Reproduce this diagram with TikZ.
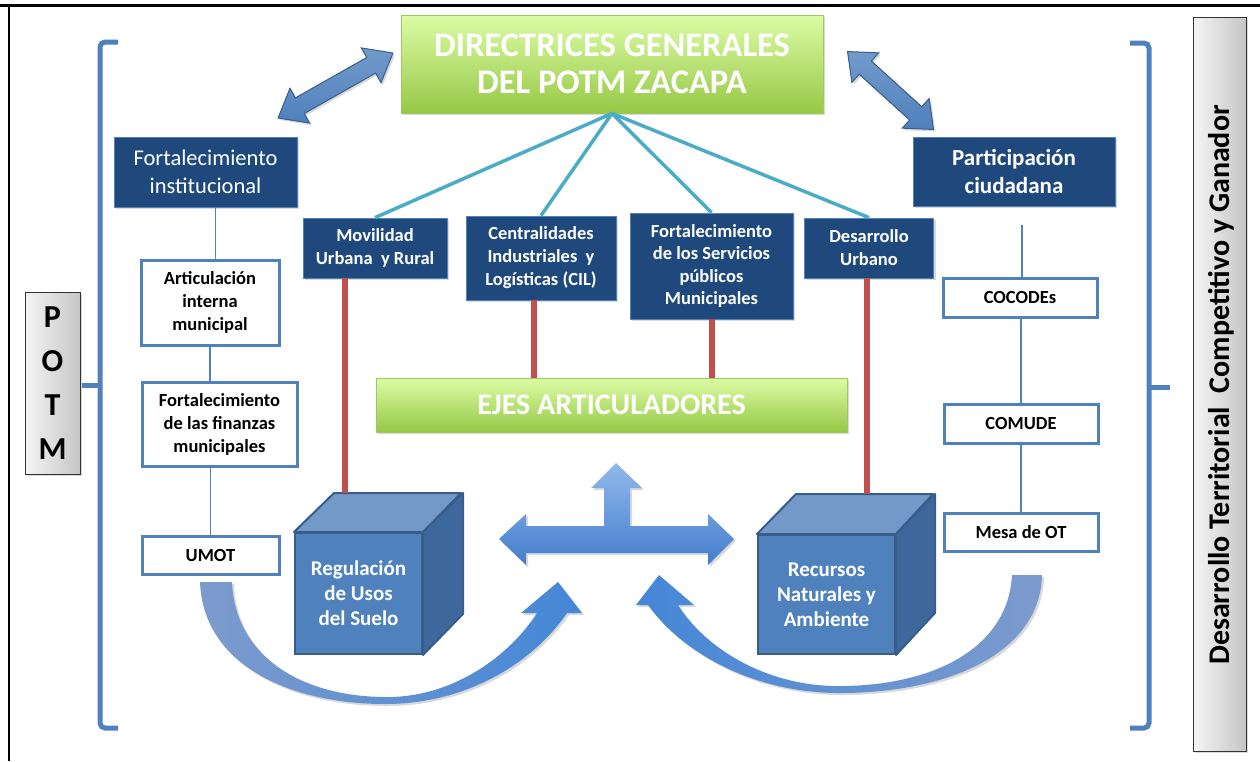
\documentclass[tikz,border=0pt]{standalone}
\usepackage{fontspec}
\setmainfont{Carlito}
\usetikzlibrary{shadows,calc}
\definecolor{dkblue}{RGB}{31,73,125}
\definecolor{midblue}{RGB}{79,129,189}
\definecolor{bordblue}{RGB}{56,93,138}
\definecolor{tealc}{RGB}{75,172,198}
\definecolor{redl}{RGB}{192,80,77}
\definecolor{gtop}{RGB}{220,252,165}
\definecolor{gbot}{RGB}{150,200,70}
\definecolor{gbord}{RGB}{160,200,90}
\definecolor{cubefr}{RGB}{79,129,189}
\definecolor{cubetp}{RGB}{114,153,200}
\definecolor{cubert}{RGB}{62,104,156}
\tikzset{
  shad/.style={drop shadow={opacity=0.3,shadow xshift=2pt,shadow yshift=-2pt}},
  darkbox/.style={draw=midblue, line width=0.8pt, fill=dkblue, text=white, align=center, inner sep=2pt, shad},
  whitebox/.style={draw=midblue, line width=3pt, fill=white, text=black, align=center, inner sep=2pt, font=\fontsize{18.5}{23}\selectfont\bfseries},
  greenbox/.style={draw=gbord, line width=0.8pt, top color=gtop, bottom color=gbot, text=white, align=center, shad},
  graybox/.style={draw=black!80, line width=1pt, left color=gray!8, right color=gray!45, shad},
  tealline/.style={draw=tealc, line width=3.5pt},
  redline/.style={draw=redl, line width=6pt},
  thinline/.style={draw=midblue, line width=1.5pt},
  bracket/.style={draw=midblue, line width=5pt, rounded corners=5pt},
  cubefront/.style={draw=bordblue, line width=2pt, fill=cubefr, text=white, align=center, font=\fontsize{21}{25}\selectfont\bfseries},
  cubeside/.style={draw=bordblue, line width=2pt, line join=round},
  blockarrow/.style={draw=bordblue, line width=1pt, top color=midblue!80, bottom color=midblue, shad},
  smallbold/.style={font=\fontsize{18.5}{23}\selectfont\bfseries},
}
\begin{document}
\begin{tikzpicture}[x=1pt,y=-1pt]
\useasboundingbox (0,0) rectangle (1260,761);
% frame
\draw[line width=3pt] (0,5) -- (1260,5);
\draw[line width=1.6pt] (9,5) -- (9,761);

% brackets
\draw[bracket] (118,42) -- (100,42) -- (100,728) -- (118,728);
\draw[bracket] (100,385) -- (82,385);
\draw[bracket] (1130,43) -- (1149,43) -- (1149,728) -- (1130,728);
\draw[bracket] (1149,387) -- (1170,387);

% gray side boxes
\node[graybox, minimum width=55pt, minimum height=182pt, align=center,
      font=\fontsize{32}{44}\selectfont\bfseries] (potm) at (52.5,383) {P\\O\\T\\M};
\node[graybox, minimum width=53pt, minimum height=734pt] (dtcg) at (1219.5,384) {};
\node[rotate=90, font=\fontsize{30}{32}\selectfont\bfseries] (dtcgtext) at (1221,385) {Desarrollo Territorial\ \ Competitivo y Ganador};

% top box
\node[greenbox, minimum width=422pt, minimum height=98pt,
      font=\fontsize{34.5}{37}\selectfont\bfseries] (dir) at (612,64) {DIRECTRICES GENERALES\\DEL POTM ZACAPA};

% double block arrows
\begin{scope}[shift={(335.5,85.5)}, rotate=29.5]
  \draw[blockarrow] (-66,0) -- (-41,20) -- (-41,9) -- (41,9) -- (41,20) -- (66,0) -- (41,-20) -- (41,-9) -- (-41,-9) -- (-41,-20) -- cycle;
\end{scope}
\begin{scope}[shift={(890.5,90.5)}, rotate=-42.2]
  \draw[blockarrow] (-58,0) -- (-34,20) -- (-34,9) -- (34,9) -- (34,20) -- (58,0) -- (34,-20) -- (34,-9) -- (-34,-9) -- (-34,-20) -- cycle;
\end{scope}

% dark blue boxes
\node[darkbox, minimum width=183pt, minimum height=70pt, font=\fontsize{22.5}{28}\selectfont] (fi) at (205.5,172) {Fortalecimiento\\institucional};
\node[darkbox, minimum width=202pt, minimum height=69pt, font=\fontsize{23}{28}\selectfont\bfseries] (pc) at (1014,171.5) {Participación\\ciudadana};
\node[darkbox, smallbold, minimum width=144pt, minimum height=60pt] (mov) at (375,248) {Movilidad\\Urbana\ \ y Rural};
\node[darkbox, smallbold, minimum width=150pt, minimum height=84pt] (cil) at (541,258) {Centralidades\\Industriales\ \ y\\Logísticas (CIL)};
\node[darkbox, minimum width=163pt, minimum height=106pt, font=\fontsize{18.5}{22.5}\selectfont\bfseries] (serv) at (711.5,266) {Fortalecimiento\\de los Servicios\\públicos\\Municipales};
\node[darkbox, smallbold, minimum width=129pt, minimum height=60pt] (du) at (869,248) {Desarrollo\\Urbano};

% teal lines
\draw[tealline] (dir.south) -- (mov.north);
\draw[tealline] (dir.south) -- (cil.north);
\draw[tealline] (dir.south) -- (serv.north);
\draw[tealline] (dir.south) -- (du.north);

% ejes
\node[greenbox, minimum width=471pt, minimum height=54pt, font=\fontsize{30}{32}\selectfont\bfseries] (ejes) at (611.5,405) {EJES ARTICULADORES};

% cubes
\node[cubefront, minimum width=127pt, minimum height=121pt] (reg) at (358.5,593.5) {Regulación\\de Usos\\del Suelo};
\filldraw[cubeside, fill=cubetp] (reg.north west) -- ++(40,-39) -- ++(127,0) -- (reg.north east) -- cycle;
\filldraw[cubeside, fill=cubert] (reg.north east) -- ++(40,-39) -- ++(0,121) -- (reg.south east) -- cycle;
\coordinate (regtop) at ($(reg.north west)+(51,-39)$);

\node[cubefront, minimum width=137pt, minimum height=119pt] (rec) at (826.5,594.5) {Recursos\\Naturales y\\Ambiente};
\filldraw[cubeside, fill=cubetp] (rec.north west) -- ++(39,-40) -- ++(137,0) -- (rec.north east) -- cycle;
\filldraw[cubeside, fill=cubert] (rec.north east) -- ++(39,-40) -- ++(0,119) -- (rec.south east) -- cycle;
\coordinate (rectop) at ($(rec.north west)+(110,-40)$);

% red lines
\draw[redline] (mov.south -| regtop) -- (regtop);
\draw[redline] ([xshift=-7pt]cil.south) -- ([xshift=-7pt]cil.south |- ejes.north);
\draw[redline] (serv.south) -- (serv.south |- ejes.north);
\draw[redline] (du.south -| rectop) -- (rectop);

% left white boxes
\node[whitebox, minimum width=138pt, minimum height=85pt] (art) at (210,302.5) {Articulación\\interna\\municipal};
\node[whitebox, minimum width=155pt, minimum height=84pt] (fin) at (219.5,424) {Fortalecimiento\\de las finanzas\\municipales};
\node[whitebox, minimum width=137pt, minimum height=38pt] (umot) at (210.5,555) {UMOT};
\draw[thinline] ([xshift=10pt]fi.south) -- ([xshift=10pt]fi.south |- art.north);
\draw[thinline] (art.south) -- (art.south |- fin.north);
\draw[thinline] (umot.north |- fin.south) -- (umot.north);

% right white boxes
\node[whitebox, minimum width=154pt, minimum height=39pt] (coco) at (1020,297.5) {COCODEs};
\node[whitebox, minimum width=154pt, minimum height=39pt] (comu) at (1021,423.5) {COMUDE};
\node[whitebox, minimum width=154pt, minimum height=38pt] (mesa) at (1021,532) {Mesa de OT};
\coordinate (pcline) at (1022,225);
\draw[thinline] (pcline) -- (pcline |- coco.north);
\draw[thinline] (comu.north |- coco.south) -- (comu.north);
\draw[thinline] (comu.south) -- (comu.south |- mesa.north);

% centre cross arrow
\path[top color={rgb,255:red,145;green,185;blue,235}, bottom color={rgb,255:red,68;green,125;blue,205}, shad]
  (499,539) -- (526,514) -- (526,526) -- (604,526) -- (604,488) -- (591,488) -- (616,463) -- (642,488) -- (630,488) -- (630,526) -- (708,526) -- (708,514) -- (734,539) -- (708,565) -- (708,553) -- (526,553) -- (526,565) -- cycle;

% curved arrows
\path[left color={rgb,255:red,125;green,155;blue,205}, right color={rgb,255:red,68;green,135;blue,215}, shad]
  (200,582) .. controls (203,665) and (290,704) .. (385,704) .. controls (470,704) and (535,660) .. (567,613) -- (582,613) -- (558,582) -- (521,613) -- (537,613) .. controls (510,655) and (455,696) .. (390,697) .. controls (300,698) and (235,655) .. (232,582) -- cycle;
\path[right color={rgb,255:red,125;green,155;blue,205}, left color={rgb,255:red,68;green,135;blue,215}, shad]
  (1042,575) .. controls (1040,655) and (945,693) .. (840,693) .. controls (750,693) and (680,650) .. (648,605) -- (636,605) -- (659,575) -- (694,605) -- (678,605) .. controls (705,648) and (765,685) .. (835,686) .. controls (930,687) and (1008,650) .. (1012,575) -- cycle;
\end{tikzpicture}
\end{document}
